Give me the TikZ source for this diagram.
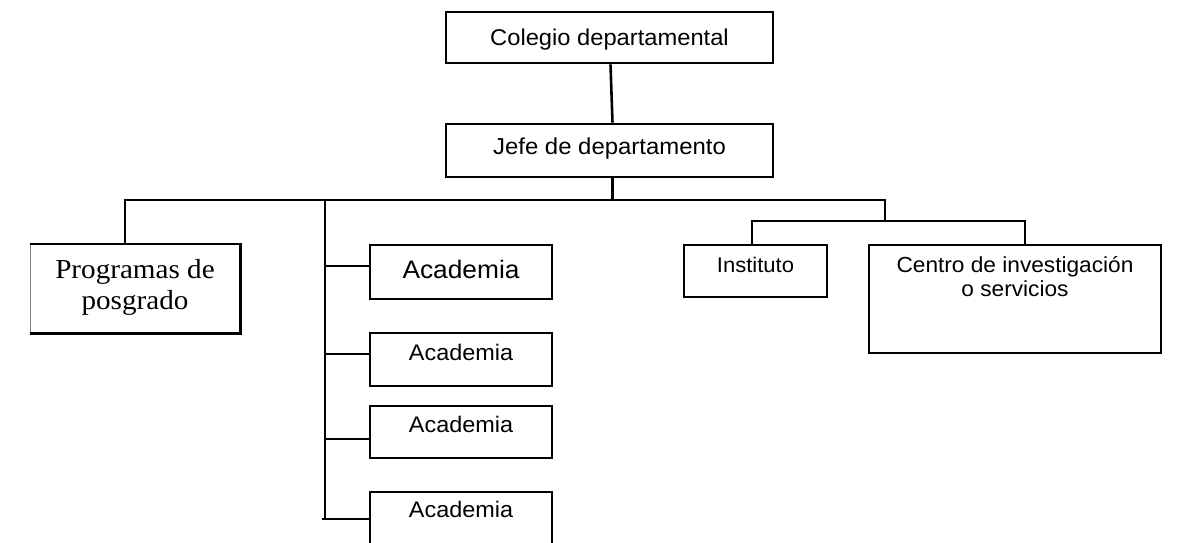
\documentclass[tikz,border=0pt]{standalone}
\usepackage{fontspec}
\setmainfont[FakeStretch=1.04]{Liberation Sans}
\newfontfamily\progfont[FakeStretch=1.06]{Liberation Serif}

\tikzset{
  orgbox/.style={draw, rectangle, line width=2.6pt, inner sep=0pt},
  orgline/.style={line width=2.6pt, line join=miter},
}
\newcommand{\twolines}[2]{\begin{tabular}[t]{@{}c@{}}#1\\#2\end{tabular}}

\begin{document}
\begin{tikzpicture}[x=1pt, y=-1pt]
    \useasboundingbox (0,0) rectangle (1197,542);

    % Top boxes
    \node[orgbox, minimum width=327pt, minimum height=51pt, text height=33pt, text depth=18pt,
          font=\fontsize{22.8}{27}\selectfont] (colegio) at (609.5,37.5) {Colegio departamental};
    \node[orgbox, minimum width=327pt, minimum height=53pt, text height=30pt, text depth=23pt,
          font=\fontsize{23}{27}\selectfont] (jefe) at (609.5,150.5) {Jefe de departamento};

    % Programas
    \node[inner sep=0pt, minimum width=210pt, minimum height=89pt, text height=34pt, text depth=55pt,
          font=\progfont\fontsize{27.5}{31}\selectfont] (prog) at (135,288.5) {\twolines{Programas de}{posgrado}};
    \draw[gray, thin] (prog.south west) -- (prog.north west);
    \draw[orgline] (prog.north west) -- (prog.north east) -- (prog.south east) -- (prog.south west);

    % Academias
    \node[orgbox, minimum width=182pt, minimum height=54pt, text height=33pt, text depth=21pt,
          font=\fontsize{25.3}{30}\selectfont] (acad1) at (461,272) {Academia};
    \node[orgbox, minimum width=182pt, minimum height=53pt, text height=27pt, text depth=26pt,
          font=\fontsize{22.5}{27}\selectfont] (acad2) at (461,359.5) {Academia};
    \node[orgbox, minimum width=182pt, minimum height=52pt, text height=26pt, text depth=26pt,
          font=\fontsize{22.5}{27}\selectfont] (acad3) at (461,432) {Academia};
    \node[orgbox, minimum width=182pt, minimum height=56pt, text height=25pt, text depth=31pt,
          font=\fontsize{22.5}{27}\selectfont] (acad4) at (461,520) {Academia};

    % Instituto y centro
    \node[orgbox, minimum width=143pt, minimum height=52pt, text height=27pt, text depth=25pt,
          font=\fontsize{21.2}{25}\selectfont] (inst) at (755.5,271) {Instituto};
    \node[orgbox, minimum width=292pt, minimum height=108pt, text height=27pt, text depth=81pt,
          font=\fontsize{21.8}{24}\selectfont] (centro) at (1015,299) {\twolines{Centro de investigación}{o servicios}};

    % Bus points
    \coordinate (busL) at (125,200);
    \coordinate (busA) at (325,200);
    \coordinate (busR) at (885,200);
    \coordinate (splitM) at (885,221);
    \coordinate (splitL) at (752,221);
    \coordinate (splitR) at (1025,221);
    \coordinate (acadEnd) at (325,520);
    \coordinate (b1) at (325,266);
    \coordinate (b2) at (325,354);
    \coordinate (b3) at (325,439);
    \coordinate (b4) at (325,519);

    % Connectors
    \draw[orgline] ([xshift=1pt]colegio.south) -- ([xshift=3pt]jefe.north);
    \draw[orgline] ([xshift=3pt]jefe.south) -- ([xshift=3pt]jefe.south |- busL);
    \draw[orgline] (prog.north -| busL) -- (busL) -- (busR) -- (splitM);
    \draw[orgline] (inst.north -| splitL) -- (splitL) -- (splitR) -- (splitR |- centro.north);
    \draw[orgline] (busA) -- (acadEnd);
    \draw[orgline] (b1) -- (b1 -| acad1.west);
    \draw[orgline] (b2) -- (b2 -| acad2.west);
    \draw[orgline] (b3) -- (b3 -| acad3.west);
    \draw[orgline] ([xshift=-3pt]b4) -- (b4 -| acad4.west);

\end{tikzpicture}
\end{document}
